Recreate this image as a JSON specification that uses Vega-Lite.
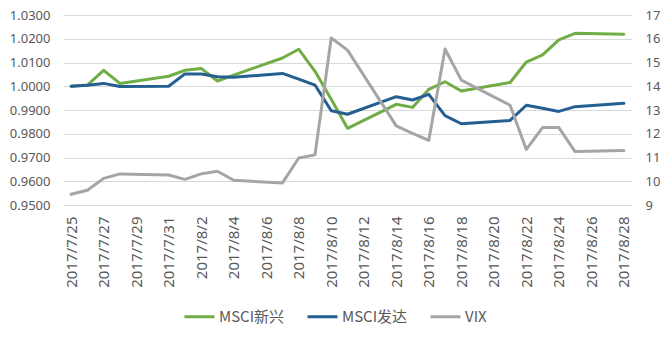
{
  "$schema": "https://vega.github.io/schema/vega-lite/v6.json",
  "width": 569,
  "height": 190,
  "autosize": {"type": "none"},
  "padding": {"left": 63, "top": 15, "right": 40, "bottom": 140},
  "background": "white",
  "config": {"view": {"stroke": null}},
  "data": {
    "values": [
      {"date": "2017/07/25", "MSCI新兴": 1.0000, "MSCI发达": 1.0000, "VIX": 9.45},
      {"date": "2017/07/26", "MSCI新兴": 1.0005, "MSCI发达": 1.0004, "VIX": 9.62},
      {"date": "2017/07/27", "MSCI新兴": 1.0067, "MSCI发达": 1.0012, "VIX": 10.12},
      {"date": "2017/07/28", "MSCI新兴": 1.0012, "MSCI发达": 0.9999, "VIX": 10.31},
      {"date": "2017/07/31", "MSCI新兴": 1.0042, "MSCI发达": 1.0000, "VIX": 10.26},
      {"date": "2017/08/01", "MSCI新兴": 1.0067, "MSCI发达": 1.0052, "VIX": 10.08},
      {"date": "2017/08/02", "MSCI新兴": 1.0075, "MSCI发达": 1.0052, "VIX": 10.31},
      {"date": "2017/08/03", "MSCI新兴": 1.0022, "MSCI发达": 1.0040, "VIX": 10.42},
      {"date": "2017/08/04", "MSCI新兴": 1.0047, "MSCI发达": 1.0038, "VIX": 10.04},
      {"date": "2017/08/07", "MSCI新兴": 1.0119, "MSCI发达": 1.0054, "VIX": 9.93},
      {"date": "2017/08/08", "MSCI新兴": 1.0156, "MSCI发达": 1.0030, "VIX": 10.98},
      {"date": "2017/08/09", "MSCI新兴": 1.0063, "MSCI发达": 1.0005, "VIX": 11.11},
      {"date": "2017/08/10", "MSCI新兴": 0.9945, "MSCI发达": 0.9897, "VIX": 16.03},
      {"date": "2017/08/11", "MSCI新兴": 0.9823, "MSCI发达": 0.9882, "VIX": 15.52},
      {"date": "2017/08/14", "MSCI新兴": 0.9924, "MSCI发达": 0.9956, "VIX": 12.33},
      {"date": "2017/08/15", "MSCI新兴": 0.9911, "MSCI发达": 0.9942, "VIX": 12.02},
      {"date": "2017/08/16", "MSCI新兴": 0.9987, "MSCI发达": 0.9966, "VIX": 11.72},
      {"date": "2017/08/17", "MSCI新兴": 1.0019, "MSCI发达": 0.9876, "VIX": 15.57},
      {"date": "2017/08/18", "MSCI新兴": 0.9980, "MSCI发达": 0.9842, "VIX": 14.26},
      {"date": "2017/08/21", "MSCI新兴": 1.0016, "MSCI发达": 0.9856, "VIX": 13.20},
      {"date": "2017/08/22", "MSCI新兴": 1.0102, "MSCI发达": 0.9920, "VIX": 11.34},
      {"date": "2017/08/23", "MSCI新兴": 1.0132, "MSCI发达": 0.9907, "VIX": 12.26},
      {"date": "2017/08/24", "MSCI新兴": 1.0195, "MSCI发达": 0.9894, "VIX": 12.26},
      {"date": "2017/08/25", "MSCI新兴": 1.0223, "MSCI发达": 0.9914, "VIX": 11.25},
      {"date": "2017/08/28", "MSCI新兴": 1.0219, "MSCI发达": 0.9928, "VIX": 11.29}
    ]
  },
  "transform": [
    {"fold": ["MSCI新兴", "MSCI发达", "VIX"], "as": ["series", "value"]}
  ],
  "encoding": {
    "x": {
      "field": "date",
      "type": "temporal",
      "scale": {
        "domain": [
          {"year": 2017, "month": 7, "date": 24, "hours": 12},
          {"year": 2017, "month": 8, "date": 28, "hours": 12}
        ]
      },
      "axis": {
        "title": null,
        "values": [
          {"year": 2017, "month": 7, "date": 25},
          {"year": 2017, "month": 7, "date": 27},
          {"year": 2017, "month": 7, "date": 29},
          {"year": 2017, "month": 7, "date": 31},
          {"year": 2017, "month": 8, "date": 2},
          {"year": 2017, "month": 8, "date": 4},
          {"year": 2017, "month": 8, "date": 6},
          {"year": 2017, "month": 8, "date": 8},
          {"year": 2017, "month": 8, "date": 10},
          {"year": 2017, "month": 8, "date": 12},
          {"year": 2017, "month": 8, "date": 14},
          {"year": 2017, "month": 8, "date": 16},
          {"year": 2017, "month": 8, "date": 18},
          {"year": 2017, "month": 8, "date": 20},
          {"year": 2017, "month": 8, "date": 22},
          {"year": 2017, "month": 8, "date": 24},
          {"year": 2017, "month": 8, "date": 26},
          {"year": 2017, "month": 8, "date": 28}
        ],
        "format": "%Y/%-m/%-d",
        "labelAngle": -90,
        "labelFont": "Noto Sans",
        "labelFontSize": 15,
        "labelColor": "#595959",
        "labelPadding": 11,
        "labelOverlap": false,
        "labelFlush": false,
        "ticks": false,
        "grid": false,
        "domain": true,
        "domainColor": "#D9D9D9",
        "domainWidth": 1
      }
    },
    "color": {
      "field": "series",
      "type": "nominal",
      "scale": {
        "domain": ["MSCI新兴", "MSCI发达", "VIX"],
        "range": ["#70AD47", "#255E91", "#A5A5A5"]
      },
      "legend": {
        "title": null,
        "orient": "none",
        "direction": "horizontal",
        "legendX": 120,
        "legendY": 285,
        "symbolType": "stroke",
        "symbolSize": 900,
        "symbolStrokeWidth": 3,
        "labelFont": "Noto Sans CJK SC",
        "labelFontSize": 15,
        "labelColor": "#595959",
        "labelOffset": 3,
        "columnPadding": 16
      }
    }
  },
  "layer": [
    {
      "transform": [{"filter": "datum.series !== 'VIX'"}],
      "mark": {"type": "line", "strokeWidth": 3, "strokeJoin": "round", "strokeCap": "round"},
      "encoding": {
        "y": {
          "field": "value",
          "type": "quantitative",
          "scale": {"domain": [0.95, 1.03], "nice": false, "zero": false},
          "axis": {
            "title": null,
            "values": [0.95, 0.96, 0.97, 0.98, 0.99, 1.0, 1.01, 1.02, 1.03],
            "format": ".4f",
            "labelFont": "Noto Sans",
            "labelFontSize": 13,
            "labelColor": "#595959",
            "labelPadding": 13,
            "ticks": false,
            "domain": false,
            "grid": true,
            "gridColor": "#D9D9D9",
            "gridWidth": 1
          }
        }
      }
    },
    {
      "transform": [{"filter": "datum.series === 'VIX'"}],
      "mark": {"type": "line", "strokeWidth": 3, "strokeJoin": "round", "strokeCap": "round"},
      "encoding": {
        "y": {
          "field": "value",
          "type": "quantitative",
          "scale": {"domain": [9, 17], "nice": false, "zero": false},
          "axis": {
            "title": null,
            "orient": "right",
            "values": [9, 10, 11, 12, 13, 14, 15, 16, 17],
            "format": "d",
            "labelFont": "Noto Sans",
            "labelFontSize": 13,
            "labelColor": "#595959",
            "labelPadding": 13,
            "ticks": false,
            "domain": false,
            "grid": false
          }
        }
      }
    }
  ],
  "resolve": {"scale": {"y": "independent"}}
}
